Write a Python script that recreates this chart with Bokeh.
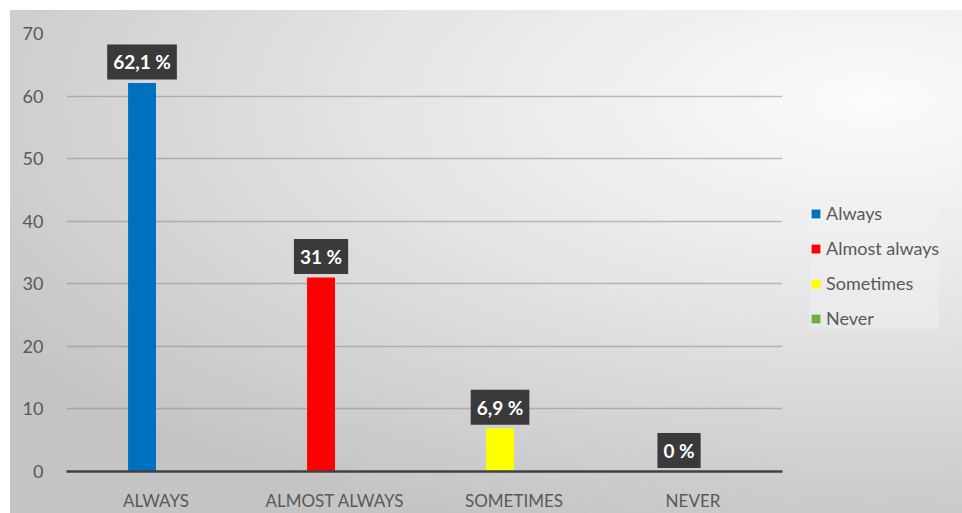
from bokeh.plotting import figure
from bokeh.models import (ColumnDataSource, FactorRange, Range1d, Legend, LegendItem,
                          Label, FixedTicker)
from bokeh.transform import dodge
from bokeh.embed import file_html
from bokeh.resources import INLINE

categories = ["ALWAYS", "ALMOST ALWAYS", "SOMETIMES", "NEVER"]
legend_labels = ["Always", "Almost always", "Sometimes", "Never"]
values = [62.1, 31, 6.9, 0]
value_labels = ["62,1 %", "31 %", "6,9 %", "0 %"]
colors = ["#0070C0", "#FF0000", "#FFFF00", "#70AD47"]
y_ticks = [0, 10, 20, 30, 40, 50, 60, 70]

FONT = "Lato"
OFFSET = -0.078
BAR_W = 0.156

src = ColumnDataSource(dict(cat=categories, val=values, color=colors, lab=legend_labels))

p = figure(x_range=FactorRange(*categories), y_range=Range1d(0, 70),
           frame_width=716, frame_height=438, output_backend="svg", toolbar_location=None,
           min_border_left=56, min_border_top=23, min_border_bottom=37, min_border_right=180)
p.margin = (10, 0, 5, 10)
p.styles = {"background": "radial-gradient(ellipse 75% 90% at 62% 18%, #fbfbfb 0%, #e6e6e6 45%, #cdcdcd 85%, #c4c4c4 100%)"}
p.background_fill_alpha = 0
p.border_fill_alpha = 0
p.outline_line_color = None

r = p.vbar(x=dodge("cat", OFFSET, range=p.x_range), top="val", width=BAR_W,
           color="color", line_color=None, source=src)

items = [LegendItem(label=legend_labels[i], renderers=[r], index=i) for i in range(len(categories))]
legend = Legend(items=items, location=(28, 142), margin=0,
                glyph_width=11, glyph_height=11, label_standoff=5,
                label_height=20, spacing=13, padding=8,
                label_text_font=FONT, label_text_font_size="18px", label_text_color="#595959",
                background_fill_color="#f2f2f2", background_fill_alpha=0.4,
                border_line_color=None)
p.add_layout(legend, "right")

for i, (v, t) in enumerate(zip(values, value_labels)):
    p.add_layout(Label(x=i + 0.5 + OFFSET, y=v, text=t, text_font=FONT,
                       text_font_style="bold", text_font_size="19px", text_color="white",
                       text_align="center", text_baseline="middle",
                       background_fill_color="#3a3a3a", padding=6, y_offset=21))

p.yaxis.ticker = FixedTicker(ticks=y_ticks)
p.yaxis.axis_line_color = None
p.yaxis.major_tick_line_color = None
p.yaxis.minor_tick_line_color = None
p.yaxis.major_label_standoff = 17
p.yaxis.major_label_text_font = FONT
p.yaxis.major_label_text_font_size = "18px"
p.yaxis.major_label_text_color = "#595959"

p.xaxis.axis_line_color = "#404040"
p.xaxis.axis_line_width = 2.5
p.xaxis.major_tick_line_color = None
p.xaxis.minor_tick_line_color = None
p.xaxis.major_label_standoff = 12
p.xaxis.major_label_text_font = FONT
p.xaxis.major_label_text_font_size = "17px"
p.xaxis.major_label_text_color = "#595959"

p.xgrid.grid_line_color = None
p.ygrid.grid_line_color = "#8c8c8c"
p.ygrid.grid_line_alpha = 0.55
p.ygrid.grid_line_width = 1.5

open("out.html", "w").write(file_html(p, INLINE))
